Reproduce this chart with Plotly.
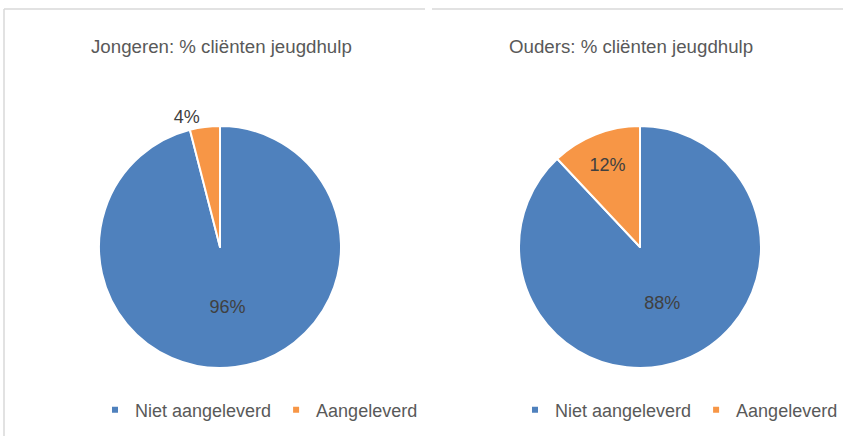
import plotly.graph_objects as go

# ---- data ----
categories = ["Niet aangeleverd", "Aangeleverd"]
jongeren_values = [96, 4]
ouders_values = [88, 12]
titles = ["Jongeren: % cliënten jeugdhulp", "Ouders: % cliënten jeugdhulp"]
colors = ["#4F81BD", "#F79646"]

W, H = 843, 436

fig = go.Figure()

pie_common = dict(
    labels=categories,
    sort=False,
    direction="clockwise",
    rotation=0,
    marker=dict(colors=colors, line=dict(color="white", width=2)),
    texttemplate="%{percent:.0%}",
    insidetextorientation="horizontal",
    textfont=dict(family="Liberation Sans, Arial, sans-serif", size=18, color="#404040"),
    showlegend=False,
    hoverinfo="label+percent",
)

fig.add_trace(go.Pie(
    values=jongeren_values,
    domain=dict(x=[99 / W, 341 / W], y=[1 - 368 / H, 1 - 126 / H]),
    textposition=["inside", "outside"],
    **pie_common,
))
fig.add_trace(go.Pie(
    values=ouders_values,
    domain=dict(x=[519 / W, 761 / W], y=[1 - 368 / H, 1 - 126 / H]),
    textposition=["inside", "inside"],
    **pie_common,
))

# legend entries (small square markers like the original)
for lg in ["legend", "legend2"]:
    for cat, col in zip(categories, colors):
        fig.add_trace(go.Scatter(
            x=[None], y=[None], mode="markers", name=cat,
            marker=dict(symbol="square", size=6, color=col),
            legend=lg, showlegend=True, hoverinfo="skip",
        ))

legend_style = dict(
    orientation="h",
    yanchor="middle",
    y=(H - 410) / H,
    xanchor="left",
    font=dict(family="Liberation Sans, Arial, sans-serif", size=18, color="#595959"),
    bgcolor="rgba(0,0,0,0)",
    itemclick=False,
    itemdoubleclick=False,
)

# chart titles
annotations = []
for t, cx in zip(titles, [221, 631]):
    annotations.append(dict(
        text=t, x=cx / W, y=1 - 47 / H, xref="paper", yref="paper",
        xanchor="center", yanchor="middle", showarrow=False,
        font=dict(family="Liberation Sans, Arial, sans-serif", size=18.7, color="#595959"),
    ))

border = "#D9D9D9"
shapes = [
    dict(type="line", xref="paper", yref="paper", x0=4 / W, x1=425 / W, y0=1 - 9 / H, y1=1 - 9 / H,
         line=dict(color=border, width=1.5)),
    dict(type="line", xref="paper", yref="paper", x0=4 / W, x1=4 / W, y0=0, y1=1 - 9 / H,
         line=dict(color=border, width=1.5)),
    dict(type="line", xref="paper", yref="paper", x0=432 / W, x1=1, y0=1 - 9 / H, y1=1 - 9 / H,
         line=dict(color=border, width=1.5)),
]

fig.update_layout(
    width=W, height=H,
    margin=dict(l=0, r=0, t=0, b=0),
    paper_bgcolor="white",
    plot_bgcolor="white",
    xaxis=dict(visible=False),
    yaxis=dict(visible=False),
    legend=dict(x=(121 - 26) / W, **legend_style),
    legend2=dict(x=(541 - 26) / W, **legend_style),
    annotations=annotations,
    shapes=shapes,
)

fig.write_html(
    "out.html",
    config={"displayModeBar": False},
    post_script="document.body.style.margin='0';document.body.style.overflow='hidden';",
)
